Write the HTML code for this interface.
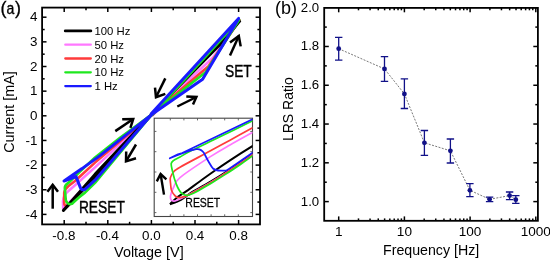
<!DOCTYPE html>
<html><head><meta charset="utf-8"><style>
html,body{margin:0;padding:0;background:#fff;width:550px;height:261px;overflow:hidden;}
svg{display:block;will-change:transform;}
text{fill:#000;}
</style></head><body>
<svg width="550" height="261" viewBox="0 0 550 261">
<rect width="550" height="261" fill="#fff"/>
<rect x="42.1" y="7.6" width="217.9" height="216.8" fill="none" stroke="#000" stroke-width="1.8"/>
<line x1="64.20" y1="224.4" x2="64.20" y2="220.0" stroke="#000" stroke-width="1.5"/>
<line x1="64.20" y1="7.6" x2="64.20" y2="12.0" stroke="#000" stroke-width="1.5"/>
<text x="63.90" y="239.6" font-size="13.4" text-anchor="middle" font-family="Liberation Sans, sans-serif">-0.8</text>
<line x1="86.00" y1="224.4" x2="86.00" y2="221.8" stroke="#000" stroke-width="1.5"/>
<line x1="86.00" y1="7.6" x2="86.00" y2="10.2" stroke="#000" stroke-width="1.5"/>
<line x1="107.80" y1="224.4" x2="107.80" y2="220.0" stroke="#000" stroke-width="1.5"/>
<line x1="107.80" y1="7.6" x2="107.80" y2="12.0" stroke="#000" stroke-width="1.5"/>
<text x="107.50" y="239.6" font-size="13.4" text-anchor="middle" font-family="Liberation Sans, sans-serif">-0.4</text>
<line x1="129.60" y1="224.4" x2="129.60" y2="221.8" stroke="#000" stroke-width="1.5"/>
<line x1="129.60" y1="7.6" x2="129.60" y2="10.2" stroke="#000" stroke-width="1.5"/>
<line x1="151.40" y1="224.4" x2="151.40" y2="220.0" stroke="#000" stroke-width="1.5"/>
<line x1="151.40" y1="7.6" x2="151.40" y2="12.0" stroke="#000" stroke-width="1.5"/>
<text x="151.40" y="239.6" font-size="13.4" text-anchor="middle" font-family="Liberation Sans, sans-serif">0.0</text>
<line x1="173.20" y1="224.4" x2="173.20" y2="221.8" stroke="#000" stroke-width="1.5"/>
<line x1="173.20" y1="7.6" x2="173.20" y2="10.2" stroke="#000" stroke-width="1.5"/>
<line x1="195.00" y1="224.4" x2="195.00" y2="220.0" stroke="#000" stroke-width="1.5"/>
<line x1="195.00" y1="7.6" x2="195.00" y2="12.0" stroke="#000" stroke-width="1.5"/>
<text x="195.00" y="239.6" font-size="13.4" text-anchor="middle" font-family="Liberation Sans, sans-serif">0.4</text>
<line x1="216.80" y1="224.4" x2="216.80" y2="221.8" stroke="#000" stroke-width="1.5"/>
<line x1="216.80" y1="7.6" x2="216.80" y2="10.2" stroke="#000" stroke-width="1.5"/>
<line x1="238.60" y1="224.4" x2="238.60" y2="220.0" stroke="#000" stroke-width="1.5"/>
<line x1="238.60" y1="7.6" x2="238.60" y2="12.0" stroke="#000" stroke-width="1.5"/>
<text x="238.60" y="239.6" font-size="13.4" text-anchor="middle" font-family="Liberation Sans, sans-serif">0.8</text>
<line x1="42.1" y1="214.40" x2="46.5" y2="214.40" stroke="#000" stroke-width="1.5"/>
<line x1="260.0" y1="214.40" x2="255.6" y2="214.40" stroke="#000" stroke-width="1.5"/>
<text x="37.4" y="218.60" font-size="13.4" text-anchor="end" font-family="Liberation Sans, sans-serif">-4</text>
<line x1="42.1" y1="202.07" x2="44.7" y2="202.07" stroke="#000" stroke-width="1.5"/>
<line x1="260.0" y1="202.07" x2="257.4" y2="202.07" stroke="#000" stroke-width="1.5"/>
<line x1="42.1" y1="189.75" x2="46.5" y2="189.75" stroke="#000" stroke-width="1.5"/>
<line x1="260.0" y1="189.75" x2="255.6" y2="189.75" stroke="#000" stroke-width="1.5"/>
<text x="37.4" y="193.95" font-size="13.4" text-anchor="end" font-family="Liberation Sans, sans-serif">-3</text>
<line x1="42.1" y1="177.43" x2="44.7" y2="177.43" stroke="#000" stroke-width="1.5"/>
<line x1="260.0" y1="177.43" x2="257.4" y2="177.43" stroke="#000" stroke-width="1.5"/>
<line x1="42.1" y1="165.10" x2="46.5" y2="165.10" stroke="#000" stroke-width="1.5"/>
<line x1="260.0" y1="165.10" x2="255.6" y2="165.10" stroke="#000" stroke-width="1.5"/>
<text x="37.4" y="169.30" font-size="13.4" text-anchor="end" font-family="Liberation Sans, sans-serif">-2</text>
<line x1="42.1" y1="152.77" x2="44.7" y2="152.77" stroke="#000" stroke-width="1.5"/>
<line x1="260.0" y1="152.77" x2="257.4" y2="152.77" stroke="#000" stroke-width="1.5"/>
<line x1="42.1" y1="140.45" x2="46.5" y2="140.45" stroke="#000" stroke-width="1.5"/>
<line x1="260.0" y1="140.45" x2="255.6" y2="140.45" stroke="#000" stroke-width="1.5"/>
<text x="37.4" y="144.65" font-size="13.4" text-anchor="end" font-family="Liberation Sans, sans-serif">-1</text>
<line x1="42.1" y1="128.12" x2="44.7" y2="128.12" stroke="#000" stroke-width="1.5"/>
<line x1="260.0" y1="128.12" x2="257.4" y2="128.12" stroke="#000" stroke-width="1.5"/>
<line x1="42.1" y1="115.80" x2="46.5" y2="115.80" stroke="#000" stroke-width="1.5"/>
<line x1="260.0" y1="115.80" x2="255.6" y2="115.80" stroke="#000" stroke-width="1.5"/>
<text x="37.4" y="120.00" font-size="13.4" text-anchor="end" font-family="Liberation Sans, sans-serif">0</text>
<line x1="42.1" y1="103.47" x2="44.7" y2="103.47" stroke="#000" stroke-width="1.5"/>
<line x1="260.0" y1="103.47" x2="257.4" y2="103.47" stroke="#000" stroke-width="1.5"/>
<line x1="42.1" y1="91.15" x2="46.5" y2="91.15" stroke="#000" stroke-width="1.5"/>
<line x1="260.0" y1="91.15" x2="255.6" y2="91.15" stroke="#000" stroke-width="1.5"/>
<text x="37.4" y="95.35" font-size="13.4" text-anchor="end" font-family="Liberation Sans, sans-serif">1</text>
<line x1="42.1" y1="78.83" x2="44.7" y2="78.83" stroke="#000" stroke-width="1.5"/>
<line x1="260.0" y1="78.83" x2="257.4" y2="78.83" stroke="#000" stroke-width="1.5"/>
<line x1="42.1" y1="66.50" x2="46.5" y2="66.50" stroke="#000" stroke-width="1.5"/>
<line x1="260.0" y1="66.50" x2="255.6" y2="66.50" stroke="#000" stroke-width="1.5"/>
<text x="37.4" y="70.70" font-size="13.4" text-anchor="end" font-family="Liberation Sans, sans-serif">2</text>
<line x1="42.1" y1="54.17" x2="44.7" y2="54.17" stroke="#000" stroke-width="1.5"/>
<line x1="260.0" y1="54.17" x2="257.4" y2="54.17" stroke="#000" stroke-width="1.5"/>
<line x1="42.1" y1="41.85" x2="46.5" y2="41.85" stroke="#000" stroke-width="1.5"/>
<line x1="260.0" y1="41.85" x2="255.6" y2="41.85" stroke="#000" stroke-width="1.5"/>
<text x="37.4" y="46.05" font-size="13.4" text-anchor="end" font-family="Liberation Sans, sans-serif">3</text>
<line x1="42.1" y1="29.53" x2="44.7" y2="29.53" stroke="#000" stroke-width="1.5"/>
<line x1="260.0" y1="29.53" x2="257.4" y2="29.53" stroke="#000" stroke-width="1.5"/>
<line x1="42.1" y1="17.20" x2="46.5" y2="17.20" stroke="#000" stroke-width="1.5"/>
<line x1="260.0" y1="17.20" x2="255.6" y2="17.20" stroke="#000" stroke-width="1.5"/>
<text x="37.4" y="21.40" font-size="13.4" text-anchor="end" font-family="Liberation Sans, sans-serif">4</text>
<text x="148.9" y="257.3" font-size="14.4" text-anchor="middle" font-family="Liberation Sans, sans-serif">Voltage [V]</text>
<text transform="translate(13.9,112.0) rotate(-90)" x="0" y="0" font-size="14.4" text-anchor="middle" font-family="Liberation Sans, sans-serif">Current [mA]</text>
<text x="0.4" y="14.3" font-size="18" stroke="#000" stroke-width="0.3" font-family="Liberation Sans, sans-serif">(</text>
<text transform="translate(6.6,13.9) scale(0.9,1)" font-size="15.6" stroke="#000" stroke-width="0.35" font-family="Liberation Sans, sans-serif">a</text>
<text x="15.0" y="14.3" font-size="18" stroke="#000" stroke-width="0.3" font-family="Liberation Sans, sans-serif">)</text>
<clipPath id="lc"><rect x="42.1" y="7.6" width="217.9" height="216.8"/></clipPath>
<g clip-path="url(#lc)" fill="none" stroke-linejoin="round" stroke-linecap="round">
<path d="M151.6,114.6 L213.0,57.5 L239.6,20.6 L153.0,115.2" stroke="#ff78ff" stroke-width="2.6"/>
<path d="M151.6,114.6 L95,176.5 L63.2,208.6 L63.0,201.5 C63.2,197 65,193.5 69,190.5 L75,185.2 L95,167.4 L151.6,114.6" stroke="#ff78ff" stroke-width="2.6"/>
<path d="M151.6,114.6 L208.5,66.2 L239.4,20.2 L152.4,114.9" stroke="#ff3b3b" stroke-width="2.6"/>
<path d="M151.6,114.6 L95,177 L67.5,206.2 C65.5,206.5 64.2,205 64.2,203 L64.2,193 C64.5,190 66,188 68.5,186 L75,181 L95,162.6 L151.6,114.6" stroke="#ff3b3b" stroke-width="2.6"/>
<path d="M151.6,114.6 L224,41 L240.2,21.2 L152.4,114.9" stroke="#000000" stroke-width="2.0"/>
<path d="M151.6,114.6 L95,177.2 L63.4,210.4 L95,174.4 L151.6,114.6" stroke="#000000" stroke-width="3.0"/>
<path d="M151.6,114.6 L205.6,72.3 L239.2,19.8 L152.4,114.9" stroke="#1ee81e" stroke-width="2.6"/>
<path d="M151.6,114.6 L95,182.8 L85,192.6 C80,196 75,201 72,203.8 C69,205 66.5,203 65.8,200 L64.8,188 C64.8,185.5 66,184.5 68,183.2 L80,171.6 L95,157.4 L120,137.7 L151.6,114.6" stroke="#1ee81e" stroke-width="2.6"/>
<path d="M151.6,114.6 L202.6,79.2 L238.6,18.4 L151.2,113.8" stroke="#1a1aff" stroke-width="3.0"/>
<path d="M151.6,114.6 L95,180.2 L84.6,189.6 C82.6,190.2 81,189 80.4,187.6 L76,176.6 L64.0,181.0 L82,168.6 L100,155.6 L151.6,114.6" stroke="#1a1aff" stroke-width="3.0"/>
</g>
<line x1="65.3" y1="30.9" x2="90.8" y2="30.9" stroke="#000000" stroke-linecap="round" stroke-width="2.9"/>
<text x="94.5" y="35.0" font-size="11.3" font-family="Liberation Sans, sans-serif">100 Hz</text>
<line x1="65.3" y1="44.7" x2="90.8" y2="44.7" stroke="#ff78ff" stroke-linecap="round" stroke-width="2.3"/>
<text x="94.5" y="48.8" font-size="11.3" font-family="Liberation Sans, sans-serif">50 Hz</text>
<line x1="65.3" y1="58.5" x2="90.8" y2="58.5" stroke="#ff3b3b" stroke-linecap="round" stroke-width="2.3"/>
<text x="94.5" y="62.6" font-size="11.3" font-family="Liberation Sans, sans-serif">20 Hz</text>
<line x1="65.3" y1="72.3" x2="90.8" y2="72.3" stroke="#1ee81e" stroke-linecap="round" stroke-width="2.3"/>
<text x="94.5" y="76.4" font-size="11.3" font-family="Liberation Sans, sans-serif">10 Hz</text>
<line x1="65.3" y1="86.1" x2="90.8" y2="86.1" stroke="#1a1aff" stroke-linecap="round" stroke-width="2.3"/>
<text x="94.5" y="90.2" font-size="11.3" font-family="Liberation Sans, sans-serif">1 Hz</text>
<path d="M115.3,131.1 L133.2,119.0" stroke="#000" stroke-width="2.5" fill="none" stroke-linecap="butt"/><path d="M122.2,119.3 L133.2,119.0 L130.4,127.8" stroke="#000" stroke-width="2.5" fill="none" stroke-linejoin="miter" stroke-miterlimit="10"/>
<path d="M136.0,144.5 L126.0,161.4" stroke="#000" stroke-width="2.5" fill="none" stroke-linecap="butt"/><path d="M126.2,151.4 L126.0,161.4 L136.0,158.3" stroke="#000" stroke-width="2.5" fill="none" stroke-linejoin="miter" stroke-miterlimit="10"/>
<path d="M165.3,78.4 L156.0,97.2" stroke="#000" stroke-width="2.5" fill="none" stroke-linecap="butt"/><path d="M155.0,87.6 L156.0,97.2 L165.3,93.8" stroke="#000" stroke-width="2.5" fill="none" stroke-linejoin="miter" stroke-miterlimit="10"/>
<path d="M177.3,106.5 L196.4,97.0" stroke="#000" stroke-width="2.5" fill="none" stroke-linecap="butt"/><path d="M186.3,96.4 L196.4,97.0 L193.0,104.6" stroke="#000" stroke-width="2.5" fill="none" stroke-linejoin="miter" stroke-miterlimit="10"/>
<path d="M230.0,55.6 L238.8,36.0" stroke="#000" stroke-width="2.5" fill="none" stroke-linecap="butt"/><path d="M230.0,42.6 L238.8,36.0 L240.7,46.4" stroke="#000" stroke-width="2.5" fill="none" stroke-linejoin="miter" stroke-miterlimit="10"/>
<path d="M52.7,208.7 L52.7,184.8" stroke="#000" stroke-width="2.5" fill="none" stroke-linecap="butt"/><path d="M47.4,191.8 L52.7,184.8 L58.0,191.8" stroke="#000" stroke-width="2.5" fill="none" stroke-linejoin="miter" stroke-miterlimit="10"/>
<text transform="translate(78.9,212.9) scale(0.845,1)" font-size="16.3" stroke="#000" stroke-width="0.4" font-family="Liberation Sans, sans-serif">RESET</text>
<text transform="translate(225.0,77.0) scale(0.855,1)" font-size="16.1" stroke="#000" stroke-width="0.4" font-family="Liberation Sans, sans-serif">SET</text>
<rect x="154.2" y="118.2" width="98.30000000000001" height="98.3" fill="#fff" stroke="#444" stroke-width="1.1"/>
<line x1="170.3" y1="118.2" x2="170.3" y2="120.4" stroke="#555" stroke-width="0.9"/>
<line x1="170.3" y1="216.5" x2="170.3" y2="214.3" stroke="#555" stroke-width="0.9"/>
<line x1="183.9" y1="118.2" x2="183.9" y2="120.4" stroke="#555" stroke-width="0.9"/>
<line x1="183.9" y1="216.5" x2="183.9" y2="214.3" stroke="#555" stroke-width="0.9"/>
<line x1="197.5" y1="118.2" x2="197.5" y2="120.4" stroke="#555" stroke-width="0.9"/>
<line x1="197.5" y1="216.5" x2="197.5" y2="214.3" stroke="#555" stroke-width="0.9"/>
<line x1="211.1" y1="118.2" x2="211.1" y2="120.4" stroke="#555" stroke-width="0.9"/>
<line x1="211.1" y1="216.5" x2="211.1" y2="214.3" stroke="#555" stroke-width="0.9"/>
<line x1="224.7" y1="118.2" x2="224.7" y2="120.4" stroke="#555" stroke-width="0.9"/>
<line x1="224.7" y1="216.5" x2="224.7" y2="214.3" stroke="#555" stroke-width="0.9"/>
<line x1="238.3" y1="118.2" x2="238.3" y2="120.4" stroke="#555" stroke-width="0.9"/>
<line x1="238.3" y1="216.5" x2="238.3" y2="214.3" stroke="#555" stroke-width="0.9"/>
<line x1="154.2" y1="131.4" x2="156.39999999999998" y2="131.4" stroke="#555" stroke-width="0.9"/>
<line x1="252.5" y1="131.4" x2="250.3" y2="131.4" stroke="#555" stroke-width="0.9"/>
<line x1="154.2" y1="151.7" x2="156.39999999999998" y2="151.7" stroke="#555" stroke-width="0.9"/>
<line x1="252.5" y1="151.7" x2="250.3" y2="151.7" stroke="#555" stroke-width="0.9"/>
<line x1="154.2" y1="172.0" x2="156.39999999999998" y2="172.0" stroke="#555" stroke-width="0.9"/>
<line x1="252.5" y1="172.0" x2="250.3" y2="172.0" stroke="#555" stroke-width="0.9"/>
<line x1="154.2" y1="192.3" x2="156.39999999999998" y2="192.3" stroke="#555" stroke-width="0.9"/>
<line x1="252.5" y1="192.3" x2="250.3" y2="192.3" stroke="#555" stroke-width="0.9"/>
<line x1="154.2" y1="212.6" x2="156.39999999999998" y2="212.6" stroke="#555" stroke-width="0.9"/>
<line x1="252.5" y1="212.6" x2="250.3" y2="212.6" stroke="#555" stroke-width="0.9"/>
<clipPath id="ic"><rect x="154.2" y="118.2" width="98.30000000000001" height="98.3"/></clipPath>
<g clip-path="url(#ic)" fill="none" stroke-width="1.7" stroke-linejoin="round">
<path d="M169.9,204.2 C171.1,203.1 173.8,200.1 176.8,197.7 C179.8,195.3 184.1,192.8 188.0,190.1 C191.9,187.3 195.5,184.4 200.0,181.2 C204.5,177.9 210.0,174.0 215.0,170.5 C220.0,167.0 223.5,164.6 230.0,160.3 C236.5,156.1 250.0,147.6 254.0,145.1 M169.9,204.2 C171.7,203.5 177.2,201.9 180.9,199.9 C184.6,197.9 188.0,194.6 192.0,192.1 C196.0,189.6 200.3,187.6 205.0,184.9 C209.7,182.2 214.7,179.2 220.0,175.9 C225.3,172.6 231.3,168.7 237.0,164.9 C242.7,161.0 251.2,154.9 254.0,152.9" stroke="#000000" stroke-width="2.0"/>
<path d="M253.0,132.2 C249.2,134.3 237.2,140.9 230.0,145.0 C222.8,149.1 218.3,151.5 210.0,156.9 C201.7,162.3 186.1,172.5 180.0,177.6 C173.9,182.7 175.1,184.5 173.5,187.5 C171.9,190.5 171.0,193.4 170.6,195.5 C170.2,197.6 170.5,199.1 171.2,200.0 C171.9,200.9 173.2,201.3 175.0,201.0 C176.8,200.7 177.8,200.1 182.0,198.0 C186.2,195.9 193.7,192.0 200.0,188.4 C206.3,184.9 213.3,180.8 220.0,176.6 C226.7,172.4 234.3,167.3 240.0,163.5 C245.7,159.7 251.7,155.3 254.0,153.6" stroke="#ff78ff"/>
<path d="M253.0,127.6 C249.2,129.7 237.2,136.3 230.0,140.2 C222.8,144.1 218.3,146.6 210.0,151.1 C201.7,155.6 186.1,163.7 180.0,167.2 C173.9,170.7 175.2,170.3 173.6,172.0 C172.0,173.7 170.9,175.6 170.4,177.6 C169.9,179.6 170.4,181.9 170.6,184.0 C170.8,186.1 170.8,188.1 171.4,190.0 C172.1,191.9 173.2,193.9 174.5,195.2 C175.8,196.5 176.4,197.8 179.0,197.6 C181.6,197.4 185.7,196.2 190.0,194.2 C194.3,192.2 200.0,188.8 205.0,185.9 C210.0,183.0 214.2,180.6 220.0,176.9 C225.8,173.2 234.3,167.6 240.0,163.8 C245.7,160.0 251.7,155.6 254.0,153.9" stroke="#ff3b3b"/>
<path d="M253.0,120.6 C247.5,123.3 230.2,131.8 220.0,136.8 C209.8,141.8 198.2,147.2 191.5,150.6 C184.8,154.0 183.0,155.3 180.0,157.0 C177.0,158.7 174.9,159.5 173.4,160.6 C171.9,161.7 171.4,162.0 171.2,163.6 C171.0,165.2 171.6,167.4 172.2,170.0 C172.8,172.6 173.6,176.2 174.5,179.0 C175.4,181.8 176.3,184.6 177.5,187.0 C178.7,189.4 179.9,191.8 181.5,193.2 C183.1,194.6 184.6,195.6 187.0,195.4 C189.4,195.2 192.2,193.8 196.0,191.9 C199.8,189.9 205.2,186.7 210.0,183.9 C214.8,181.0 220.0,177.8 225.0,174.6 C230.0,171.5 235.2,168.0 240.0,164.7 C244.8,161.4 251.7,156.5 254.0,154.8" stroke="#1ee81e"/>
<path d="M253,119.1 L182.2,153.1 L177.9,154.3 L169.8,158.3 L176,155.6 L187.4,151.4 L196,149.2 C200,148.5 202,150 204,153 C207,159 210,165 213,168.5 C215,170.3 218,170.8 222,170.6 L226.0,170.7 L228.5,169.1 L231.1,167.4 L233.6,165.7 L236.2,164.0 L238.7,162.3 L241.3,160.5 L243.8,158.8 L246.4,157.0 L248.9,155.2 L251.5,153.4 L254.0,151.5" stroke="#1a1aff"/>
</g>
<path d="M164.0,194.6 L160.6,174.0" stroke="#000" stroke-width="2.4" fill="none" stroke-linecap="butt"/><path d="M156.8,181.4 L160.6,174.0 L166.4,179.4" stroke="#000" stroke-width="2.4" fill="none" stroke-linejoin="miter" stroke-miterlimit="10"/>
<text transform="translate(185.3,206.8) scale(0.875,1)" font-size="12" stroke="#000" stroke-width="0.25" font-family="Liberation Sans, sans-serif">RESET</text>
<rect x="324.2" y="7.9" width="213.7" height="212.9" fill="none" stroke="#000" stroke-width="1.8"/>
<line x1="338.70" y1="220.8" x2="338.70" y2="216.4" stroke="#000" stroke-width="1.5"/>
<line x1="338.70" y1="7.9" x2="338.70" y2="12.3" stroke="#000" stroke-width="1.5"/>
<text x="338.70" y="236.4" font-size="13.6" text-anchor="middle" font-family="Liberation Sans, sans-serif">1</text>
<line x1="358.48" y1="220.8" x2="358.48" y2="218.4" stroke="#000" stroke-width="1.5"/>
<line x1="358.48" y1="7.9" x2="358.48" y2="10.3" stroke="#000" stroke-width="1.5"/>
<line x1="370.05" y1="220.8" x2="370.05" y2="218.4" stroke="#000" stroke-width="1.5"/>
<line x1="370.05" y1="7.9" x2="370.05" y2="10.3" stroke="#000" stroke-width="1.5"/>
<line x1="378.26" y1="220.8" x2="378.26" y2="218.4" stroke="#000" stroke-width="1.5"/>
<line x1="378.26" y1="7.9" x2="378.26" y2="10.3" stroke="#000" stroke-width="1.5"/>
<line x1="384.62" y1="220.8" x2="384.62" y2="218.4" stroke="#000" stroke-width="1.5"/>
<line x1="384.62" y1="7.9" x2="384.62" y2="10.3" stroke="#000" stroke-width="1.5"/>
<line x1="389.82" y1="220.8" x2="389.82" y2="218.4" stroke="#000" stroke-width="1.5"/>
<line x1="389.82" y1="7.9" x2="389.82" y2="10.3" stroke="#000" stroke-width="1.5"/>
<line x1="394.22" y1="220.8" x2="394.22" y2="218.4" stroke="#000" stroke-width="1.5"/>
<line x1="394.22" y1="7.9" x2="394.22" y2="10.3" stroke="#000" stroke-width="1.5"/>
<line x1="398.03" y1="220.8" x2="398.03" y2="218.4" stroke="#000" stroke-width="1.5"/>
<line x1="398.03" y1="7.9" x2="398.03" y2="10.3" stroke="#000" stroke-width="1.5"/>
<line x1="401.39" y1="220.8" x2="401.39" y2="218.4" stroke="#000" stroke-width="1.5"/>
<line x1="401.39" y1="7.9" x2="401.39" y2="10.3" stroke="#000" stroke-width="1.5"/>
<line x1="404.40" y1="220.8" x2="404.40" y2="216.4" stroke="#000" stroke-width="1.5"/>
<line x1="404.40" y1="7.9" x2="404.40" y2="12.3" stroke="#000" stroke-width="1.5"/>
<text x="404.40" y="236.4" font-size="13.6" text-anchor="middle" font-family="Liberation Sans, sans-serif">10</text>
<line x1="424.18" y1="220.8" x2="424.18" y2="218.4" stroke="#000" stroke-width="1.5"/>
<line x1="424.18" y1="7.9" x2="424.18" y2="10.3" stroke="#000" stroke-width="1.5"/>
<line x1="435.75" y1="220.8" x2="435.75" y2="218.4" stroke="#000" stroke-width="1.5"/>
<line x1="435.75" y1="7.9" x2="435.75" y2="10.3" stroke="#000" stroke-width="1.5"/>
<line x1="443.96" y1="220.8" x2="443.96" y2="218.4" stroke="#000" stroke-width="1.5"/>
<line x1="443.96" y1="7.9" x2="443.96" y2="10.3" stroke="#000" stroke-width="1.5"/>
<line x1="450.32" y1="220.8" x2="450.32" y2="218.4" stroke="#000" stroke-width="1.5"/>
<line x1="450.32" y1="7.9" x2="450.32" y2="10.3" stroke="#000" stroke-width="1.5"/>
<line x1="455.52" y1="220.8" x2="455.52" y2="218.4" stroke="#000" stroke-width="1.5"/>
<line x1="455.52" y1="7.9" x2="455.52" y2="10.3" stroke="#000" stroke-width="1.5"/>
<line x1="459.92" y1="220.8" x2="459.92" y2="218.4" stroke="#000" stroke-width="1.5"/>
<line x1="459.92" y1="7.9" x2="459.92" y2="10.3" stroke="#000" stroke-width="1.5"/>
<line x1="463.73" y1="220.8" x2="463.73" y2="218.4" stroke="#000" stroke-width="1.5"/>
<line x1="463.73" y1="7.9" x2="463.73" y2="10.3" stroke="#000" stroke-width="1.5"/>
<line x1="467.09" y1="220.8" x2="467.09" y2="218.4" stroke="#000" stroke-width="1.5"/>
<line x1="467.09" y1="7.9" x2="467.09" y2="10.3" stroke="#000" stroke-width="1.5"/>
<line x1="470.10" y1="220.8" x2="470.10" y2="216.4" stroke="#000" stroke-width="1.5"/>
<line x1="470.10" y1="7.9" x2="470.10" y2="12.3" stroke="#000" stroke-width="1.5"/>
<text x="470.10" y="236.4" font-size="13.6" text-anchor="middle" font-family="Liberation Sans, sans-serif">100</text>
<line x1="489.88" y1="220.8" x2="489.88" y2="218.4" stroke="#000" stroke-width="1.5"/>
<line x1="489.88" y1="7.9" x2="489.88" y2="10.3" stroke="#000" stroke-width="1.5"/>
<line x1="501.45" y1="220.8" x2="501.45" y2="218.4" stroke="#000" stroke-width="1.5"/>
<line x1="501.45" y1="7.9" x2="501.45" y2="10.3" stroke="#000" stroke-width="1.5"/>
<line x1="509.66" y1="220.8" x2="509.66" y2="218.4" stroke="#000" stroke-width="1.5"/>
<line x1="509.66" y1="7.9" x2="509.66" y2="10.3" stroke="#000" stroke-width="1.5"/>
<line x1="516.02" y1="220.8" x2="516.02" y2="218.4" stroke="#000" stroke-width="1.5"/>
<line x1="516.02" y1="7.9" x2="516.02" y2="10.3" stroke="#000" stroke-width="1.5"/>
<line x1="521.22" y1="220.8" x2="521.22" y2="218.4" stroke="#000" stroke-width="1.5"/>
<line x1="521.22" y1="7.9" x2="521.22" y2="10.3" stroke="#000" stroke-width="1.5"/>
<line x1="525.62" y1="220.8" x2="525.62" y2="218.4" stroke="#000" stroke-width="1.5"/>
<line x1="525.62" y1="7.9" x2="525.62" y2="10.3" stroke="#000" stroke-width="1.5"/>
<line x1="529.43" y1="220.8" x2="529.43" y2="218.4" stroke="#000" stroke-width="1.5"/>
<line x1="529.43" y1="7.9" x2="529.43" y2="10.3" stroke="#000" stroke-width="1.5"/>
<line x1="532.79" y1="220.8" x2="532.79" y2="218.4" stroke="#000" stroke-width="1.5"/>
<line x1="532.79" y1="7.9" x2="532.79" y2="10.3" stroke="#000" stroke-width="1.5"/>
<line x1="535.80" y1="220.8" x2="535.80" y2="216.4" stroke="#000" stroke-width="1.5"/>
<line x1="535.80" y1="7.9" x2="535.80" y2="12.3" stroke="#000" stroke-width="1.5"/>
<text x="535.80" y="236.4" font-size="13.6" text-anchor="middle" font-family="Liberation Sans, sans-serif">1000</text>
<line x1="324.2" y1="201.60" x2="328.8" y2="201.60" stroke="#000" stroke-width="1.5"/>
<line x1="537.9" y1="201.60" x2="533.3" y2="201.60" stroke="#000" stroke-width="1.5"/>
<text x="319.2" y="205.60" font-size="13.2" text-anchor="end" font-family="Liberation Sans, sans-serif">1.0</text>
<line x1="324.2" y1="182.21" x2="326.8" y2="182.21" stroke="#000" stroke-width="1.5"/>
<line x1="537.9" y1="182.21" x2="535.3" y2="182.21" stroke="#000" stroke-width="1.5"/>
<line x1="324.2" y1="162.82" x2="328.8" y2="162.82" stroke="#000" stroke-width="1.5"/>
<line x1="537.9" y1="162.82" x2="533.3" y2="162.82" stroke="#000" stroke-width="1.5"/>
<text x="319.2" y="166.82" font-size="13.2" text-anchor="end" font-family="Liberation Sans, sans-serif">1.2</text>
<line x1="324.2" y1="143.43" x2="326.8" y2="143.43" stroke="#000" stroke-width="1.5"/>
<line x1="537.9" y1="143.43" x2="535.3" y2="143.43" stroke="#000" stroke-width="1.5"/>
<line x1="324.2" y1="124.04" x2="328.8" y2="124.04" stroke="#000" stroke-width="1.5"/>
<line x1="537.9" y1="124.04" x2="533.3" y2="124.04" stroke="#000" stroke-width="1.5"/>
<text x="319.2" y="128.04" font-size="13.2" text-anchor="end" font-family="Liberation Sans, sans-serif">1.4</text>
<line x1="324.2" y1="104.65" x2="326.8" y2="104.65" stroke="#000" stroke-width="1.5"/>
<line x1="537.9" y1="104.65" x2="535.3" y2="104.65" stroke="#000" stroke-width="1.5"/>
<line x1="324.2" y1="85.26" x2="328.8" y2="85.26" stroke="#000" stroke-width="1.5"/>
<line x1="537.9" y1="85.26" x2="533.3" y2="85.26" stroke="#000" stroke-width="1.5"/>
<text x="319.2" y="89.26" font-size="13.2" text-anchor="end" font-family="Liberation Sans, sans-serif">1.6</text>
<line x1="324.2" y1="65.87" x2="326.8" y2="65.87" stroke="#000" stroke-width="1.5"/>
<line x1="537.9" y1="65.87" x2="535.3" y2="65.87" stroke="#000" stroke-width="1.5"/>
<line x1="324.2" y1="46.48" x2="328.8" y2="46.48" stroke="#000" stroke-width="1.5"/>
<line x1="537.9" y1="46.48" x2="533.3" y2="46.48" stroke="#000" stroke-width="1.5"/>
<text x="319.2" y="50.48" font-size="13.2" text-anchor="end" font-family="Liberation Sans, sans-serif">1.8</text>
<line x1="324.2" y1="27.09" x2="326.8" y2="27.09" stroke="#000" stroke-width="1.5"/>
<line x1="537.9" y1="27.09" x2="535.3" y2="27.09" stroke="#000" stroke-width="1.5"/>
<text x="319.2" y="11.70" font-size="13.2" text-anchor="end" font-family="Liberation Sans, sans-serif">2.0</text>
<text x="431.1" y="255.3" font-size="14.2" text-anchor="middle" font-family="Liberation Sans, sans-serif">Frequency [Hz]</text>
<text transform="translate(293.2,109.2) rotate(-90)" x="0" y="0" font-size="14" text-anchor="middle" font-family="Liberation Sans, sans-serif">LRS Ratio</text>
<text x="274.9" y="14.4" font-size="18" font-family="Liberation Sans, sans-serif">(b)</text>
<polyline points="338.7,48.7 384.5,68.9 404.4,93.9 424.4,142.8 450.4,150.8 469.9,190.3 489.6,199.3 509.6,195.6 515.8,199.7" fill="none" stroke="#6a6a6a" stroke-width="0.9" stroke-dasharray="2,1.4"/>
<path d="M338.7,37.3 L338.7,60.2 M335.0,37.3 L342.4,37.3 M335.0,60.2 L342.4,60.2" stroke="#111188" stroke-width="1.3" fill="none"/>
<circle cx="338.7" cy="48.7" r="2.4" fill="#111188"/>
<path d="M384.5,56.6 L384.5,81.3 M380.8,56.6 L388.2,56.6 M380.8,81.3 L388.2,81.3" stroke="#111188" stroke-width="1.3" fill="none"/>
<circle cx="384.5" cy="68.9" r="2.4" fill="#111188"/>
<path d="M404.4,78.8 L404.4,108.5 M400.7,78.8 L408.09999999999997,78.8 M400.7,108.5 L408.09999999999997,108.5" stroke="#111188" stroke-width="1.3" fill="none"/>
<circle cx="404.4" cy="93.9" r="2.4" fill="#111188"/>
<path d="M424.4,130.5 L424.4,155.4 M420.7,130.5 L428.09999999999997,130.5 M420.7,155.4 L428.09999999999997,155.4" stroke="#111188" stroke-width="1.3" fill="none"/>
<circle cx="424.4" cy="142.8" r="2.4" fill="#111188"/>
<path d="M450.4,139.0 L450.4,163.0 M446.7,139.0 L454.09999999999997,139.0 M446.7,163.0 L454.09999999999997,163.0" stroke="#111188" stroke-width="1.3" fill="none"/>
<circle cx="450.4" cy="150.8" r="2.4" fill="#111188"/>
<path d="M469.9,183.6 L469.9,196.6 M466.2,183.6 L473.59999999999997,183.6 M466.2,196.6 L473.59999999999997,196.6" stroke="#111188" stroke-width="1.3" fill="none"/>
<circle cx="469.9" cy="190.3" r="2.4" fill="#111188"/>
<path d="M489.6,197.2 L489.6,201.6 M485.90000000000003,197.2 L493.3,197.2 M485.90000000000003,201.6 L493.3,201.6" stroke="#111188" stroke-width="1.3" fill="none"/>
<circle cx="489.6" cy="199.3" r="2.4" fill="#111188"/>
<path d="M509.6,192.0 L509.6,199.7 M505.90000000000003,192.0 L513.3000000000001,192.0 M505.90000000000003,199.7 L513.3000000000001,199.7" stroke="#111188" stroke-width="1.3" fill="none"/>
<circle cx="509.6" cy="195.6" r="2.4" fill="#111188"/>
<path d="M515.8,195.6 L515.8,203.3 M512.0999999999999,195.6 L519.5,195.6 M512.0999999999999,203.3 L519.5,203.3" stroke="#111188" stroke-width="1.3" fill="none"/>
<circle cx="515.8" cy="199.7" r="2.4" fill="#111188"/>
</svg>
</body></html>
